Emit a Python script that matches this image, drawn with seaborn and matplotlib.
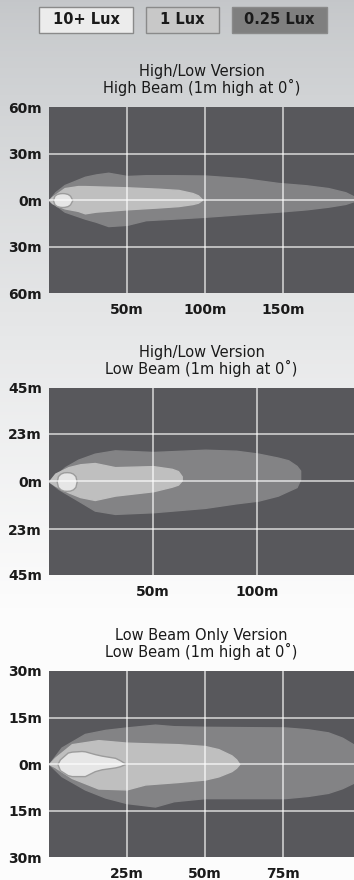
import numpy as np
import matplotlib
matplotlib.use("Agg")
import matplotlib.pyplot as plt
import seaborn as sns
from matplotlib.patches import Rectangle

# legend levels
lux_labels = ["10+ Lux", "1 Lux", "0.25 Lux"]
legend_fills = ["#ececec", "#c8c8c8", "#7f7f7f"]
# fill colours for the beam zones, outer (0.25 lux) -> core (10+ lux)
zone_colors = ["#838385", "#bfbfbf", "#e6e6e6"]
zone_edges = ["#838385", "#bfbfbf", "#9c9c9c"]

# panel 1: High/Low version, high beam  (x in m, upper / lower edge in m)
hb_outer_x = [0, 4, 10, 23, 30, 38, 50, 62, 80, 100, 125, 147, 165, 179, 190, 196]
hb_outer_up = [0, 5, 9.7, 15, 16.5, 17.6, 15.5, 16, 16, 15.8, 14, 11, 9.5, 7.7, 5, 2]
hb_outer_lo = [0, -3, -7.5, -12, -14, -16.8, -16, -13, -12, -10.8, -9, -7.5, -6, -4.3, -2.5, -0.5]
hb_mid_x = [0, 2, 10, 18.5, 23, 30, 50, 70, 83, 92, 95.5, 98]
hb_mid_up = [0, 2, 7.7, 9, 9, 8.8, 8.2, 7.3, 6.5, 4.5, 3, 0.5]
hb_mid_lo = [0, -2, -5.4, -7, -8.6, -7.5, -6, -4.8, -3.9, -2.6, -1.7, 0]
hb_core_x = [2.5, 3.5, 5, 7, 8.5, 10, 12, 13.5, 15]
hb_core_up = [0, 2.8, 3.9, 4.4, 4.5, 4.4, 3.9, 2.8, 0]
hb_core_lo = [0, -2.8, -3.9, -4.4, -4.5, -4.4, -3.9, -2.8, 0]

# panel 2: High/Low version, low beam
lb_outer_x = [0, 4.4, 7.7, 14, 22, 31.7, 50, 75, 90, 100.6, 110, 115, 119, 120.7]
lb_outer_up = [0, 4, 6.9, 10.5, 13.4, 15, 14.2, 15.3, 14.8, 13.4, 11.5, 10.2, 7.5, 5.3]
lb_outer_lo = [0, -3.5, -5.5, -9.2, -14, -15.6, -14.8, -12.7, -10.5, -9.2, -6.8, -4.5, -2.7, 1]
lb_mid_x = [0, 3, 9.3, 15, 22, 31.7, 50, 59, 62, 63.8]
lb_mid_up = [0, 3.8, 6.9, 8.3, 8.9, 6.9, 7.4, 6.1, 5, 2.5]
lb_mid_lo = [0, -2, -5.2, -7.5, -8.9, -6.8, -4.7, -2.5, -1.5, 0.5]
lb_core_x = [3.7, 4.3, 5.5, 7, 8.5, 10, 11.5, 12.7, 13.3]
lb_core_up = [0, 2.6, 3.8, 4.4, 4.5, 4.4, 3.8, 2.6, 0]
lb_core_lo = [0, -2.6, -3.8, -4.4, -4.5, -4.4, -3.8, -2.6, 0]

# panel 3: low beam only version
lo_outer_x = [0, 4, 11.5, 18, 24.9, 34, 40, 50, 62, 75.6, 83, 89.5, 94, 97.5, 99]
lo_outer_up = [0, 5.3, 9.7, 11, 11.8, 12.7, 12.2, 12, 11.9, 11.8, 11.2, 10.2, 8.5, 6.4, 5]
lo_outer_lo = [0, -3.9, -8.2, -10.8, -12.6, -13.7, -12, -11, -11, -11, -10.3, -9.3, -7.8, -6.1, -5]
lo_mid_x = [0, 1.9, 7.3, 15.8, 24.9, 30.8, 41.4, 50, 54.3, 58.5, 60, 61]
lo_mid_up = [0, 2, 6.4, 7.7, 6.9, 6.7, 6.4, 5.8, 4.8, 2.8, 1.5, 0]
lo_mid_lo = [0, -1, -4.5, -7.9, -8.2, -6.6, -5.8, -5, -4, -2.3, -1.2, 0]
lo_core_x = [2.7, 3.5, 6, 7.3, 10.4, 11.5, 14.7, 16.9, 21.2, 22.8, 24.4]
lo_core_up = [0, 1.5, 3.7, 4, 4.2, 4.1, 3.2, 2.7, 2, 1.2, 0.2]
lo_core_lo = [0, -2, -3.6, -3.9, -3.9, -3.9, -2.3, -1.7, -1.1, -0.7, 0]

panels = [
    dict(title="High/Low Version\nHigh Beam (1m high at 0\u02da)",
         xlim=195.5, ylim=60, xticks=[50, 100, 150], yticks=[-60, -30, 0, 30, 60],
         shapes=[(hb_outer_x, hb_outer_up, hb_outer_lo),
                 (hb_mid_x, hb_mid_up, hb_mid_lo),
                 (hb_core_x, hb_core_up, hb_core_lo)]),
    dict(title="High/Low Version\nLow Beam (1m high at 0\u02da)",
         xlim=146.6, ylim=45, xticks=[50, 100], yticks=[-45, -23, 0, 23, 45],
         shapes=[(lb_outer_x, lb_outer_up, lb_outer_lo),
                 (lb_mid_x, lb_mid_up, lb_mid_lo),
                 (lb_core_x, lb_core_up, lb_core_lo)]),
    dict(title="Low Beam Only Version\nLow Beam (1m high at 0\u02da)",
         xlim=97.8, ylim=30, xticks=[25, 50, 75], yticks=[-30, -15, 0, 15, 30],
         shapes=[(lo_outer_x, lo_outer_up, lo_outer_lo),
                 (lo_mid_x, lo_mid_up, lo_mid_lo),
                 (lo_core_x, lo_core_up, lo_core_lo)]),
]

sns.set_style("dark")
plt.rcParams['font.family'] = ['Liberation Sans Narrow', 'DejaVu Sans']

fig = plt.figure(figsize=(3.54, 8.80), dpi=100)

# background gradient, gray at the top fading to white
bg = fig.add_axes([0, 0, 1, 1], zorder=-10)
grad = np.linspace(0, 1, 256).reshape(-1, 1)
top = np.array([0.77, 0.78, 0.79])
bot = np.array([0.99, 0.99, 0.99])
t = np.clip(grad / 0.7, 0, 1)
img = top + (bot - top) * t[..., None] ** 0.8
bg.imshow(img.reshape(256, 1, 3), aspect='auto', extent=[0, 1, 0, 1], origin='upper')
bg.set_axis_off()

# legend boxes
box_x = [39, 146, 232]
box_w = [94, 73, 95]
for lab, fc, x0, w in zip(lux_labels, legend_fills, box_x, box_w):
    fig.patches.append(Rectangle((x0 / 354, 1 - 33 / 880), w / 354, 26 / 880,
                                 transform=fig.transFigure, facecolor=fc,
                                 edgecolor="#8a8a8a", linewidth=1.0))
    fig.text((x0 + w / 2) / 354, 1 - 20 / 880, lab, ha='center', va='center',
             fontsize=10.5, color="#1a1a1a", fontweight='bold')

axes_rect = [(0.1384, 0.667, 0.8616, 0.2114),
             (0.1384, 0.3466, 0.8616, 0.2125),
             (0.1384, 0.0261, 0.8616, 0.2114)]

for p, rect in zip(panels, axes_rect):
    ax = fig.add_axes(rect)
    ax.set_facecolor("#58585c")
    for (xs, up, lo), col, ec in zip(p["shapes"], zone_colors, zone_edges):
        ax.fill_between(xs, up, lo, facecolor=col, linewidth=1.0,
                        edgecolor=ec, zorder=2)
    ax.set_xlim(0, p["xlim"])
    ax.set_ylim(-p["ylim"], p["ylim"])
    ax.set_xticks(p["xticks"])
    ax.set_yticks(p["yticks"])
    ax.set_xticklabels([f"{v}m" for v in p["xticks"]], fontweight='bold')
    ax.set_yticklabels([f"{abs(v)}m" for v in p["yticks"]], fontweight='bold')
    for v in p["xticks"]:
        ax.axvline(v, color="white", alpha=0.7, lw=1.2, zorder=3)
    for v in p["yticks"][1:-1]:
        ax.axhline(v, color="white", alpha=0.7, lw=1.2, zorder=3)
    ax.tick_params(axis='both', length=0, labelsize=10, colors="#1a1a1a")
    ax.tick_params(axis='x', pad=7)
    ax.tick_params(axis='y', pad=5)
    ax.grid(False)
    for s in ax.spines.values():
        s.set_visible(False)
    ax.set_title(p["title"], fontsize=10.5, color="#1a1a1a", pad=10,
                 fontweight='normal', linespacing=1.0)

fig.savefig("out.png", dpi=100)
